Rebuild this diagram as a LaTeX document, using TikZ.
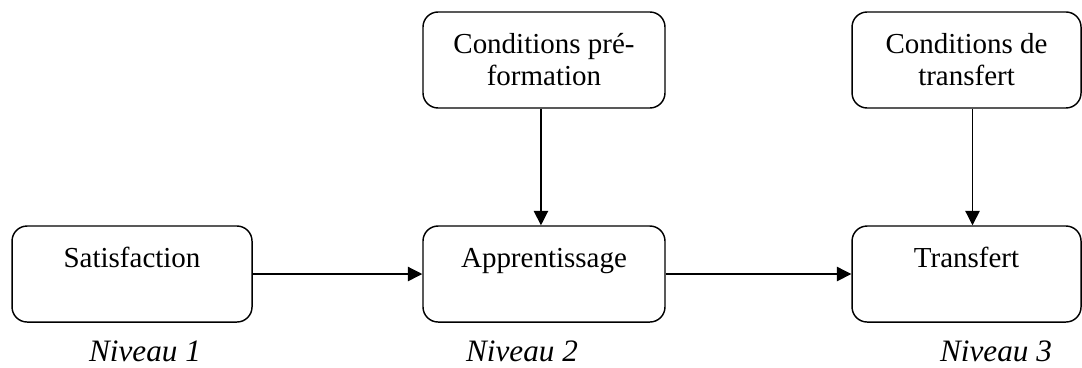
\documentclass[tikz,border=0pt]{standalone}
\usepackage{fontspec}
\setmainfont{Liberation Serif}
\usetikzlibrary{arrows.meta}

\begin{document}
\begin{tikzpicture}[>={Triangle[length=6pt, width=6pt]},
    box/.style={draw, line width=0.6pt, rounded corners=0.22cm, inner sep=0pt,
        minimum height=1.397cm},
    boxtext/.style={anchor=base, inner sep=0pt, align=center,
        font=\fontsize{12}{13.25}\selectfont},
    niveau/.style={anchor=base, inner sep=0pt, font=\fontsize{12.9}{15}\selectfont\itshape},
    link/.style={->, line width=0.5pt}]
    \useasboundingbox (0,0) rectangle (15.743,5.340);

    % Lower row of boxes
    \node[box, minimum width=3.492cm] (sat)   at (1.921,1.353)  {};
    \node[box, minimum width=3.521cm] (app)   at (7.915,1.353)  {};
    \node[box, minimum width=3.332cm] (trans) at (14.063,1.353) {};

    % Upper row of boxes
    \node[box, minimum width=3.521cm] (condpre) at (7.915,4.467)  {};
    \node[box, minimum width=3.332cm] (condtr)  at (14.063,4.467) {};

    % Texts set near the top of each box (base = last line)
    \node[boxtext] (satText)   at ([yshift=-0.611cm]sat.north)   {Satisfaction};
    \node[boxtext] (appText)   at ([yshift=-0.611cm]app.north)   {Apprentissage};
    \node[boxtext] (transText) at ([yshift=-0.611cm]trans.north) {Transfert};
    \node[boxtext] (condpreText) at ([yshift=-1.077cm]condpre.north) {Conditions pré-\\formation};
    \node[boxtext] (condtrText)  at ([yshift=-1.077cm]condtr.north)  {Conditions de\\transfert};

    % Levels under the lower row
    \node[niveau] (niv1) at (2.110,0.073)  {Niveau 1};
    \node[niveau] (niv2) at (7.595,0.073)  {Niveau 2};
    \node[niveau] (niv3) at (14.492,0.073) {Niveau 3};

    % Arrows
    \draw[link] (sat.east) -- (app.west);
    \draw[link] (app.east) -- (trans.west);
    \draw[link] ([xshift=-0.044cm]condpre.south) -- ([xshift=-0.044cm]app.north);
    \draw[link] ([xshift=0.087cm]condtr.south) -- ([xshift=0.087cm]trans.north);
\end{tikzpicture}
\end{document}
